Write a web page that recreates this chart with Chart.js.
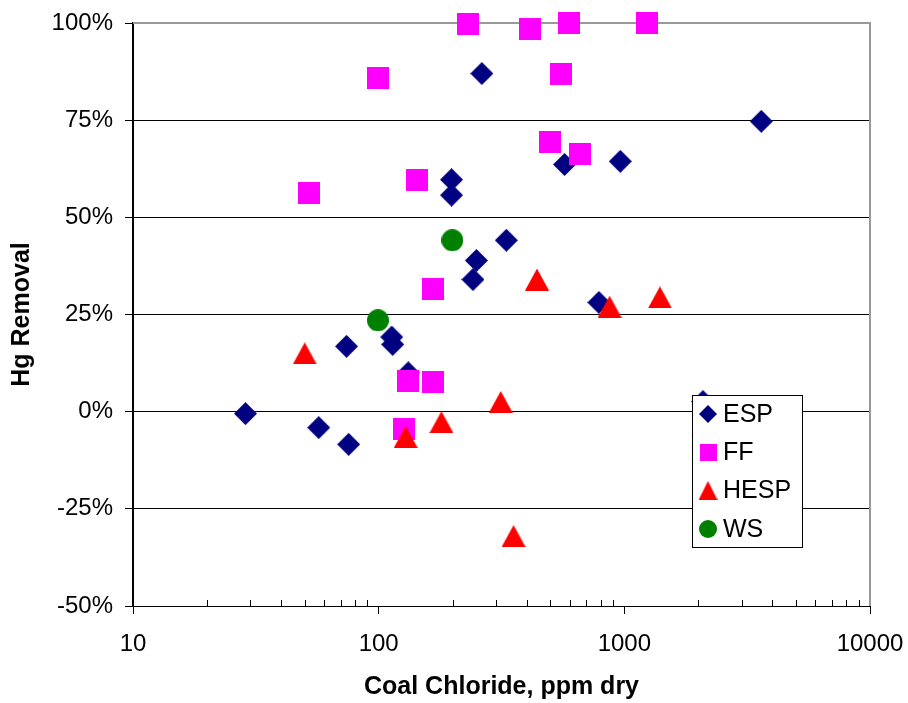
<!DOCTYPE html>
<html>
<head>
<meta charset="utf-8">
<script src="https://cdn.jsdelivr.net/npm/chart.js@4"></script>
<style>
  html, body { margin: 0; padding: 0; background: #fff; }
  canvas { display: block; }
</style>
</head>
<body>
<canvas id="hgChart" width="908" height="703"></canvas>
<script>
// values (x = coal chloride ppm, y = Hg removal %)
const espX = [28.7, 57, 75.5, 74, 113, 114, 132, 198, 198, 263, 250, 242, 331, 571, 963, 3610, 788, 2090];
const espY = [-0.5, -4.1, -8.4, 16.8, 19.2, 17.3, 10, 59.7, 55.7, 87, 38.9, 34, 44.1, 63.6, 64.4, 74.7, 28.1, 2.6];

const ffX = [51.9, 99.3, 143.7, 232, 413, 598, 1233, 554, 497, 662, 166, 132, 166, 126.5];
const ffY = [56.2, 85.8, 59.7, 99.8, 98.5, 100, 100, 86.8, 69.5, 66.4, 31.6, 7.8, 7.6, -4.4];

const hespX = [50, 128.8, 180, 314, 354, 441, 871, 1396];
const hespY = [15, -6.5, -2.7, 2.5, -32, 34, 27, 29.4];

const wsX = [99.3, 199.5];
const wsY = [23.5, 44.1];

const seriesNames = ['ESP', 'FF', 'HESP', 'WS'];
const xTickDecades = [10, 100, 1000, 10000];
const yTickValues = [-50, -25, 0, 25, 50, 75, 100];

const FONT = "'Liberation Sans', Arial, sans-serif";
Chart.defaults.font.family = FONT;
Chart.defaults.color = '#000';

// marker images drawn once, centred in their own box like the spreadsheet markers
function makeMarker(shape, w, h, color) {
    const c = document.createElement('canvas');
    c.width = w;
    c.height = h;
    const g = c.getContext('2d');
    g.fillStyle = color;
    g.beginPath();
    if (shape === 'diamond') {
        g.moveTo(w / 2, 0); g.lineTo(w, h / 2); g.lineTo(w / 2, h); g.lineTo(0, h / 2);
    } else if (shape === 'square') {
        g.rect(0, 0, w, h);
    } else if (shape === 'triangle') {
        g.moveTo(w / 2, 0); g.lineTo(w, h); g.lineTo(0, h);
    } else {
        g.arc(w / 2, h / 2, w / 2, 0, Math.PI * 2);
    }
    g.closePath();
    g.fill();
    return c;
}

const colors = ['#000080', '#FF00FF', '#FF0000', '#008000'];
const plotMarkers = [
    makeMarker('diamond', 23, 23, colors[0]),
    makeMarker('square', 22, 22, colors[1]),
    makeMarker('triangle', 24, 22, colors[2]),
    makeMarker('circle', 22, 22, colors[3])
];
const legendMarkers = [
    makeMarker('diamond', 18, 18, colors[0]),
    makeMarker('square', 17, 17, colors[1]),
    makeMarker('triangle', 19, 19, colors[2]),
    makeMarker('circle', 18, 18, colors[3])
];

function toPoints(xs, ys) {
    return xs.map((x, i) => ({ x: x, y: ys[i] }));
}

const isDecade = v => xTickDecades.includes(v);

// keep the plot box where the reference has it, no label overhang padding
function noPadding(scale) {
    scale.paddingLeft = 0;
    scale.paddingRight = 0;
    scale.paddingTop = 0;
    scale.paddingBottom = 0;
}

// gray frame on top/right, minor ticks pointing up into the plot
const framePlugin = {
    id: 'frame',
    beforeDatasetsDraw(chart) {
        const { ctx, chartArea: a, scales: { x } } = chart;
        ctx.save();
        ctx.strokeStyle = '#999';
        ctx.lineWidth = 2;
        ctx.beginPath();
        ctx.moveTo(a.left, a.top);
        ctx.lineTo(a.right, a.top);
        ctx.lineTo(a.right, a.bottom);
        ctx.stroke();

        ctx.strokeStyle = '#000';
        ctx.lineWidth = 1;
        ctx.beginPath();
        x.ticks.forEach(t => {
            if (isDecade(t.value)) return;
            const px = Math.round(x.getPixelForValue(t.value)) + 0.5;
            ctx.moveTo(px, a.bottom);
            ctx.lineTo(px, a.bottom - 6);
        });
        ctx.stroke();
        ctx.restore();
    }
};

// boxed legend inside the plot, lower right
const boxLegendPlugin = {
    id: 'boxLegend',
    afterDatasetsDraw(chart) {
        const ctx = chart.ctx;
        const bx = 692, by = 395, bw = 110, bh = 152;
        const rowY = [414, 452.5, 490.5, 529];
        ctx.save();
        ctx.fillStyle = '#fff';
        ctx.fillRect(bx, by, bw, bh);
        ctx.strokeStyle = '#000';
        ctx.lineWidth = 1;
        ctx.strokeRect(bx + 0.5, by + 0.5, bw, bh);
        ctx.font = '25px ' + FONT;
        ctx.fillStyle = '#000';
        ctx.textBaseline = 'middle';
        ctx.textAlign = 'left';
        seriesNames.forEach((name, i) => {
            const m = legendMarkers[i];
            ctx.drawImage(m, 708 - m.width / 2, rowY[i] - m.height / 2);
            ctx.fillText(name, 723, rowY[i] + 1);
        });
        ctx.restore();
    }
};

new Chart(document.getElementById('hgChart'), {
    type: 'scatter',
    data: {
        datasets: [
            { label: 'ESP', data: toPoints(espX, espY), pointStyle: plotMarkers[0], order: 4 },
            { label: 'FF', data: toPoints(ffX, ffY), pointStyle: plotMarkers[1], order: 3 },
            { label: 'HESP', data: toPoints(hespX, hespY), pointStyle: plotMarkers[2], order: 2 },
            { label: 'WS', data: toPoints(wsX, wsY), pointStyle: plotMarkers[3], order: 1 }
        ].map((d, i) => Object.assign(d, {
            backgroundColor: colors[i],
            borderColor: colors[i],
            pointRadius: 11,
            clip: false
        }))
    },
    options: {
        responsive: false,
        devicePixelRatio: 1,
        animation: false,
        layout: { padding: { top: 23, right: 38, left: 0, bottom: 0 } },
        plugins: {
            legend: { display: false },
            tooltip: { enabled: false }
        },
        scales: {
            x: {
                type: 'logarithmic',
                min: 10,
                max: 10000,
                afterBuildTicks(scale) {
                    const ticks = [];
                    for (let d = 10; d < 10000; d *= 10) {
                        for (let k = 1; k < 10; k++) ticks.push({ value: d * k });
                    }
                    ticks.push({ value: 10000 });
                    scale.ticks = ticks;
                },
                afterFit(scale) {
                    scale.height = 97;
                    noPadding(scale);
                },
                ticks: {
                    autoSkip: false,
                    maxRotation: 0,
                    padding: 16,
                    font: { size: 24 },
                    callback: v => isDecade(v) ? String(v) : ''
                },
                grid: {
                    drawOnChartArea: false,
                    tickLength: 8,
                    tickColor: c => isDecade(c.tick.value) ? '#000' : 'rgba(0,0,0,0)'
                },
                border: { color: '#000', width: 1 },
                title: {
                    display: true,
                    text: 'Coal Chloride, ppm dry',
                    font: { size: 25, weight: 'bold' },
                    padding: { top: 0, bottom: 1 }
                }
            },
            y: {
                min: -50,
                max: 100,
                afterBuildTicks(scale) {
                    scale.ticks = yTickValues.map(v => ({ value: v }));
                },
                afterFit(scale) {
                    scale.width = 133;
                    noPadding(scale);
                },
                ticks: {
                    padding: 12,
                    font: { size: 24 },
                    callback: v => v + '%'
                },
                grid: {
                    color: c => c.tick && c.tick.value === 100 ? 'rgba(0,0,0,0)' : '#000',
                    tickLength: 8,
                    tickColor: '#000'
                },
                border: { color: '#000', width: 2 },
                title: {
                    display: true,
                    text: 'Hg Removal',
                    font: { size: 25, weight: 'bold' },
                    padding: { top: 7, bottom: 0 }
                }
            }
        }
    },
    plugins: [framePlugin, boxLegendPlugin]
});
</script>
</body>
</html>
